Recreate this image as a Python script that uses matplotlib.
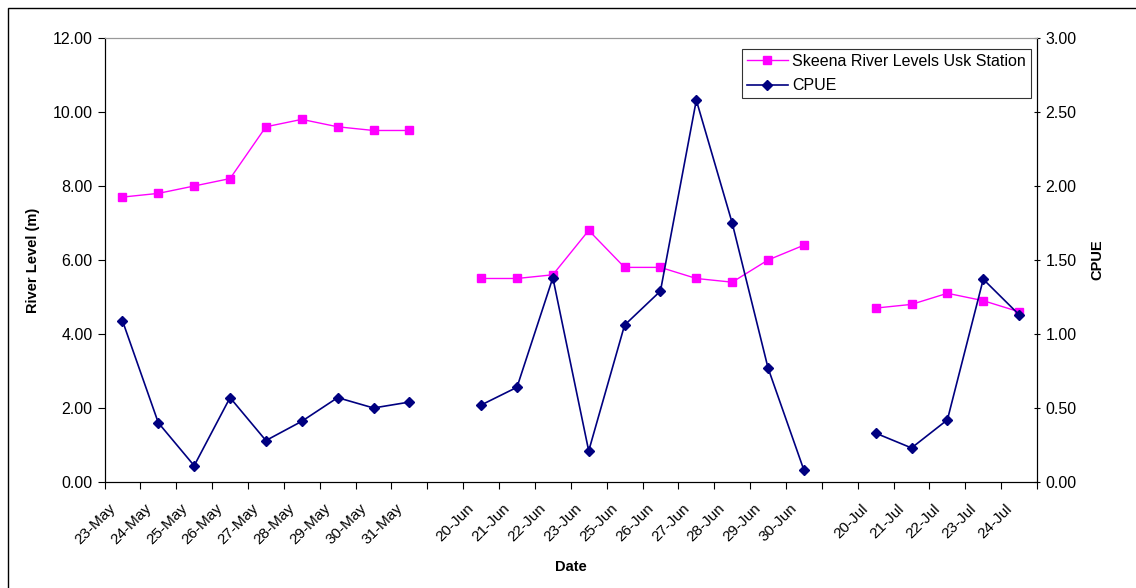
import numpy as np
import matplotlib.pyplot as plt
from matplotlib.patches import Rectangle

plt.rcParams["font.family"] = ["Liberation Sans", "DejaVu Sans"]

# category labels; None marks the blank slot between sampling periods
dates = ["23-May", "24-May", "25-May", "26-May", "27-May", "28-May", "29-May", "30-May", "31-May",
         None,
         "20-Jun", "21-Jun", "22-Jun", "23-Jun", "25-Jun", "26-Jun", "27-Jun", "28-Jun", "29-Jun", "30-Jun",
         None,
         "20-Jul", "21-Jul", "22-Jul", "23-Jul", "24-Jul"]

river_level = [7.7, 7.8, 8.0, 8.2, 9.6, 9.8, 9.6, 9.5, 9.5,
               np.nan,
               5.5, 5.5, 5.6, 6.8, 5.8, 5.8, 5.5, 5.4, 6.0, 6.4,
               np.nan,
               4.7, 4.8, 5.1, 4.9, 4.6]

cpue = [1.09, 0.40, 0.11, 0.57, 0.28, 0.41, 0.57, 0.50, 0.54,
        np.nan,
        0.52, 0.64, 1.38, 0.21, 1.06, 1.29, 2.58, 1.75, 0.77, 0.08,
        np.nan,
        0.33, 0.23, 0.42, 1.37, 1.13]

PINK = "#FF00FF"
NAVY = "#000080"

x = np.arange(len(dates))

fig = plt.figure(figsize=(11.36, 5.88), dpi=100)
ax = fig.add_axes([0.092, 0.1803, 0.8209, 0.7551])
ax2 = ax.twinx()

l1, = ax.plot(x, river_level, color=PINK, lw=1.0, marker="s", ms=5.5,
              mec=PINK, mfc=PINK, label="Skeena River Levels Usk Station", zorder=3)
l2, = ax2.plot(x, cpue, color=NAVY, lw=1.2, marker="D", ms=5,
               mec=NAVY, mfc=NAVY, label="CPUE", zorder=3)

ax.set_xlim(-0.5, len(dates) - 0.5)
ax.set_ylim(0, 12)
ax2.set_ylim(0, 3)
ax.set_yticks(np.arange(0, 12.01, 2))
ax.set_yticklabels([f"{v:.2f}" for v in np.arange(0, 12.01, 2)])
ax2.set_yticks(np.arange(0, 3.01, 0.5))
ax2.set_yticklabels([f"{v:.2f}" for v in np.arange(0, 3.01, 0.5)])

# tick marks sit between categories; rotated labels hang just left of each centre
ax.set_xticks(np.arange(-0.5, len(dates), 1.0))
ax.set_xticklabels([])
ax.set_xticks(x - 0.4, minor=True)
ax.set_xticklabels([d if d else "" for d in dates], minor=True,
                   rotation=45, ha="right", va="top", rotation_mode="anchor")
ax.tick_params(axis="x", which="minor", length=0, pad=14, labelsize=11)
ax.tick_params(axis="x", which="major", length=5, direction="out", width=0.8)
ax.tick_params(axis="y", length=5, direction="out", labelsize=11.5, width=0.8)
ax2.tick_params(axis="y", length=5, direction="inout", labelsize=11.5, width=0.8)

for spine in ("left", "bottom", "right"):
    ax2.spines[spine].set_color("black")
ax.spines["top"].set_color("#999999")
ax2.spines["top"].set_color("#999999")

ax.set_xlabel("Date", fontsize=10.5, fontweight="bold", labelpad=9)
ax.set_ylabel("River Level (m)", fontsize=10.5, fontweight="bold", labelpad=9)
ax2.set_ylabel("CPUE", fontsize=10.5, fontweight="bold", labelpad=10)

leg = ax2.legend([l1, l2], [l1.get_label(), l2.get_label()], loc="upper right",
                 bbox_to_anchor=(0.9965, 0.983), fontsize=11.5, frameon=True,
                 fancybox=False, edgecolor="black", borderpad=0.3,
                 handlelength=2.6, handletextpad=0.25, labelspacing=0.6,
                 borderaxespad=0.2)
leg.get_frame().set_linewidth(0.8)

# chart area border
fig.patches.append(Rectangle((8 / 1136, -0.1), 1.2, 1 - 8 / 588 + 0.1,
                             transform=fig.transFigure, fill=False,
                             edgecolor="black", lw=1.0))

fig.savefig("out.png", dpi=100)
